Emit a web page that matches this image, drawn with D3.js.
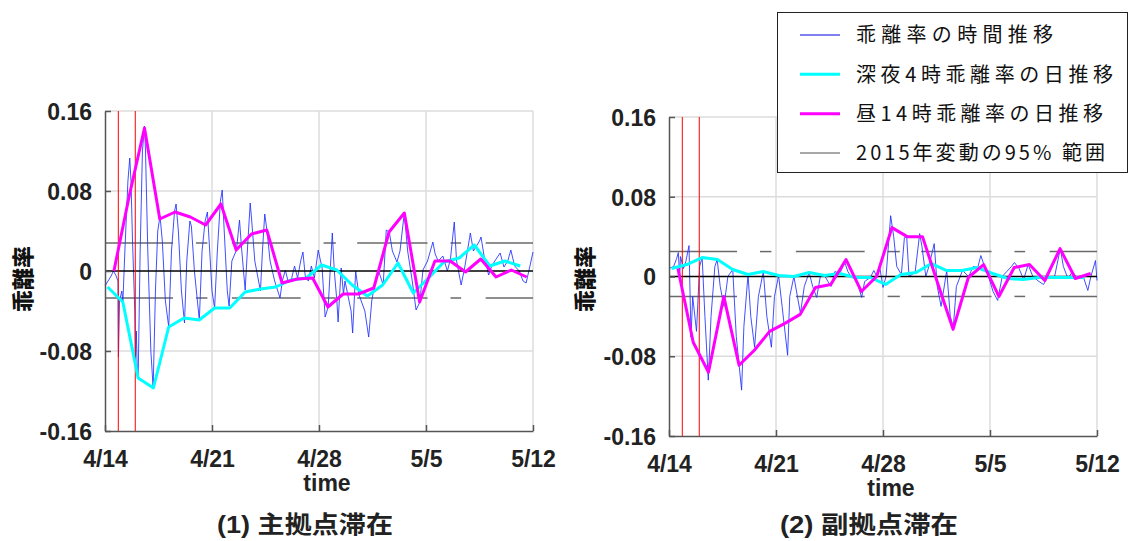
<!DOCTYPE html>
<meta charset="utf-8">
<style>
body { margin: 0; background: #fff; }
</style>
<svg id="chart" width="1130" height="541"></svg>
<script src="https://d3js.org/d3.v7.min.js"></script>
<script>

// day offsets count from 4/14 0:00
var tickDays = [0, 7, 14, 21, 28];
var tickLabels = ["4/14", "4/21", "4/28", "5/5", "5/12"];
var yTicks = [-0.16, -0.08, 0, 0.08, 0.16];
var quakeDays = [0.87, 1.98];

// 2015 95% range, [lower, upper] per panel, drawn on these day spans
var rangeSpans = [[0, 4.45], [5.95, 6.7], [8.3, 12.8], [14.3, 15.1], [16.5, 21.1], [22.6, 23.3], [24.9, 28]];
var rangeMain = [-0.027, 0.028];
var rangeSub = [-0.020, 0.025];

// 4時 values (cyan), one per day 4/14..5/11
var nightMain = [-0.016, -0.031, -0.107, -0.117, -0.056, -0.047, -0.049, -0.037, -0.037, -0.021, -0.018, -0.016, -0.009, -0.007,
	0.006, 0.001, -0.014, -0.025, -0.014, 0.008, -0.022, -0.007, 0.009, 0.013, 0.026, 0.005, 0.010, 0.005];
var nightSub = [0.008, 0.012, 0.019, 0.017, 0.007, 0.002, 0.005, 0.001, 0.000, 0.004, 0.001, 0.003, -0.001, -0.001,
	-0.008, 0.002, 0.004, 0.013, 0.006, 0.006, 0.009, 0.003, -0.002, -0.003, -0.001, -0.001, -0.001, -0.001];

// 14時 values (magenta)
var dayMain = [0.000, 0.075, 0.143, 0.052, 0.059, 0.054, 0.046, 0.067, 0.021, 0.037, 0.041, -0.012, -0.008, -0.007,
	-0.036, -0.023, -0.023, -0.017, 0.039, 0.058, -0.031, 0.010, 0.010, -0.001, 0.012, -0.006, 0.001, -0.006];
var daySub = [0.008, -0.066, -0.096, -0.020, -0.089, -0.074, -0.055, -0.047, -0.038, -0.011, -0.008, 0.017, -0.015, 0.000,
	0.049, 0.040, 0.040, -0.007, -0.053, -0.001, 0.012, -0.020, 0.009, 0.012, -0.004, 0.028, -0.002, 0.003];

// hourly trace (blue), [day, value]
var hourlyMain = [
	[0,-0.015],[0.2,-0.010],[0.4,-0.005],[0.55,0.000],[0.7,-0.004],[0.85,-0.010],[0.88,-0.086],[0.95,-0.030],
	[1.1,-0.020],[1.17,-0.031],[1.3,0.020],[1.5,0.090],[1.62,0.113],[1.7,0.090],[1.8,0.030],[1.95,-0.040],[1.99,-0.090],[2.05,-0.060],[2.12,-0.105],[2.17,-0.107],
	[2.3,0.020],[2.45,0.120],[2.58,0.145],[2.65,0.120],[2.8,0.020],[3.0,-0.080],[3.15,-0.117],
	[3.3,-0.020],[3.45,0.040],[3.6,0.055],[3.75,0.030],[3.95,-0.030],[4.17,-0.056],
	[4.35,0.020],[4.55,0.060],[4.65,0.067],[4.8,0.040],[5.0,-0.020],[5.2,-0.052],
	[5.35,0.010],[5.55,0.050],[5.65,0.045],[5.85,0.000],[6.17,-0.049],
	[6.35,0.020],[6.55,0.050],[6.7,0.059],[6.85,0.020],[7.0,-0.020],[7.17,-0.037],
	[7.35,0.020],[7.55,0.070],[7.67,0.081],[7.8,0.040],[8.0,-0.020],[8.12,-0.035],
	[8.3,0.010],[8.6,0.021],[8.8,0.051],[8.95,0.020],[9.17,-0.019],
	[9.35,0.030],[9.5,0.068],[9.6,0.050],[9.8,0.010],[10.17,-0.020],
	[10.3,0.020],[10.45,0.057],[10.6,0.040],[10.8,0.010],[11.1,-0.010],[11.45,-0.027],
	[11.6,-0.010],[11.8,0.001],[12.0,-0.012],[12.2,-0.008],
	[12.4,0.005],[12.6,-0.007],[12.8,0.010],[12.95,0.019],[13.1,-0.005],[13.3,-0.010],
	[13.5,0.005],[13.7,-0.007],[13.95,0.021],[14.1,0.010],[14.2,0.004],
	[14.4,-0.046],[14.6,-0.036],[14.87,0.038],[15.0,0.000],
	[15.17,-0.030],[15.25,-0.051],[15.45,0.003],[15.6,-0.023],[15.7,-0.010],
	[16.1,-0.040],[16.2,-0.062],[16.4,0.000],[16.6,-0.023],
	[17.0,-0.040],[17.25,-0.066],[17.45,-0.030],[17.6,-0.017],
	[17.9,0.000],[18.2,-0.014],[18.4,0.041],[18.6,0.039],[18.8,0.020],
	[19.1,0.009],[19.3,0.020],[19.58,0.058],[19.8,0.020],
	[20.1,-0.010],[20.35,-0.039],[20.6,-0.031],[20.8,0.001],
	[21.1,0.010],[21.45,0.029],[21.6,0.017],[21.8,0.010],
	[22.1,0.015],[22.4,0.000],[22.6,0.012],[22.85,0.049],[23.0,0.010],
	[23.3,-0.014],[23.55,0.005],[23.9,0.038],[24.1,0.020],
	[24.3,0.025],[24.5,0.030],[24.6,0.034],[24.8,0.015],
	[25.1,-0.004],[25.3,0.005],[25.5,0.010],[25.85,0.018],
	[26.1,0.004],[26.35,0.010],[26.55,0.021],[26.8,0.005],
	[27.1,0.000],[27.35,-0.010],[27.55,-0.012],[27.8,0.005],[28,0.019]
];
var hourlySub = [
	[0,0.008],[0.3,0.010],[0.5,0.018],[0.61,0.024],[0.7,0.000],[0.75,0.020],[0.95,0.008],
	[1.1,0.015],[1.31,0.031],[1.44,-0.061],[1.55,-0.020],[1.8,-0.055],[2.0,0.010],[2.17,0.019],
	[2.35,-0.040],[2.57,-0.104],[2.75,-0.040],[3.0,0.010],[3.15,0.017],
	[3.35,-0.010],[3.6,-0.030],[3.85,0.000],[4.17,0.007],
	[4.4,-0.060],[4.75,-0.114],[4.9,-0.050],[5.17,0.002],
	[5.35,-0.040],[5.6,-0.071],[5.85,-0.020],[6.17,0.005],
	[6.4,-0.040],[6.7,-0.071],[6.9,-0.020],[7.17,0.001],
	[7.4,-0.030],[7.76,-0.079],[7.9,-0.020],[8.17,0.000],
	[8.4,-0.020],[8.6,-0.037],[8.85,-0.010],[9.17,0.004],
	[9.4,-0.010],[9.66,-0.021],[9.9,0.000],[10.17,0.001],
	[10.4,-0.005],[10.6,-0.010],[10.85,0.005],[11.17,0.003],
	[11.5,0.014],[11.7,0.005],[11.9,0.000],[12.17,-0.001],
	[12.4,-0.010],[12.6,-0.021],[12.8,-0.005],[13.17,-0.001],
	[13.4,0.006],[13.6,0.000],[13.8,0.008],[14.0,-0.011],
	[14.2,0.000],[14.5,0.061],[14.7,0.040],[14.9,0.010],[15.2,0.002],
	[15.4,0.039],[15.55,0.040],[15.7,0.000],[16.1,0.004],
	[16.4,0.043],[16.55,0.030],[16.8,0.000],[17.0,0.010],
	[17.35,0.033],[17.55,-0.010],[17.8,-0.030],[18.17,0.006],
	[18.4,-0.040],[18.6,-0.051],[18.8,-0.010],[19.2,0.006],
	[19.6,0.000],[19.9,0.010],[20.2,0.009],[20.4,0.021],[20.6,0.012],
	[20.9,0.000],[21.2,-0.015],[21.5,-0.024],[21.8,0.000],
	[22.1,0.005],[22.4,0.010],[22.6,0.014],[22.9,0.008],
	[23.2,-0.003],[23.5,0.012],[23.8,0.000],[24.2,-0.005],
	[24.5,-0.008],[24.8,0.000],[25.2,-0.002],[25.6,0.028],[25.8,0.010],
	[26.1,-0.002],[26.4,0.005],[26.7,-0.002],[27.1,0.000],[27.4,-0.014],[27.6,0.000],[27.9,0.016],[28,-0.004]
];

var legendItems = [
	{ label: "乖離率の時間推移", color: "#0000e0", width: 1, len: 197 },
	{ label: "深夜4時乖離率の日推移", color: "#00ffff", width: 3, len: 257 },
	{ label: "昼14時乖離率の日推移", color: "#ff00ff", width: 3, len: 247 },
	{ label: "2015年変動の95% 範囲", color: "#a8a8a8", width: 2, len: 249 }
];

var svg = d3.select("svg#chart");
var latin = "'Liberation Sans', Arial, sans-serif";
var cjk = "'Liberation Sans', 'Noto Sans CJK JP', sans-serif";

drawPanel({ x0: 105, x1: 533, y0: 431, y1: 111, hourly: hourlyMain, night: nightMain, day: dayMain,
	range: rangeMain, caption: "(1) 主拠点滞在", capX: 305, capLen: 176, labelX: 23 });
drawPanel({ x0: 669, x1: 1097, y0: 436, y1: 117, hourly: hourlySub, night: nightSub, day: daySub,
	range: rangeSub, caption: "(2) 副拠点滞在", capX: 869, capLen: 178, labelX: 585 });
drawLegend();

function drawPanel(p) {
	var x = d3.scaleLinear().domain([0, 28]).range([p.x0, p.x1]);
	var y = d3.scaleLinear().domain([-0.16, 0.16]).range([p.y0, p.y1]);
	var g = svg.append("g");

	// grid
	g.selectAll("line.vg").data(tickDays.slice(1)).enter().append("line")
		.attr("x1", function(d) { return x(d); }).attr("x2", function(d) { return x(d); })
		.attr("y1", y(0.16)).attr("y2", y(-0.16))
		.attr("stroke", "#dcdcdc").attr("stroke-width", 1.5);
	g.selectAll("line.hg").data([0.08, 0.16, -0.08]).enter().append("line")
		.attr("x1", x(0)).attr("x2", x(28))
		.attr("y1", function(d) { return y(d); }).attr("y2", function(d) { return y(d); })
		.attr("stroke", "#dcdcdc").attr("stroke-width", 1.5);

	// 95% range
	p.range.forEach(function(v) {
		g.selectAll(null).data(rangeSpans).enter().append("line")
			.attr("x1", function(d) { return x(d[0]); }).attr("x2", function(d) { return x(d[1]); })
			.attr("y1", y(v)).attr("y2", y(v))
			.attr("stroke", "#6a6a6a").attr("stroke-width", 1.5);
	});

	var line = d3.line()
		.x(function(d) { return x(d[0]); })
		.y(function(d) { return y(d[1]); });

	g.append("path")
		.attr("d", line(p.hourly))
		.attr("fill", "none")
		.attr("stroke", "#2030ff")
		.attr("stroke-width", 1)
		.attr("stroke-opacity", 0.85);

	g.append("line")
		.attr("x1", x(0)).attr("x2", x(28)).attr("y1", y(0)).attr("y2", y(0))
		.attr("stroke", "#000").attr("stroke-width", 1.5);

	g.selectAll("line.eq").data(quakeDays).enter().append("line")
		.attr("x1", function(d) { return x(d); }).attr("x2", function(d) { return x(d); })
		.attr("y1", y(0.16)).attr("y2", y(-0.16))
		.attr("stroke", "#ff0000").attr("stroke-width", 1);

	g.append("path")
		.attr("d", line(p.night.map(function(v, i) { return [i + 4 / 24, v]; })))
		.attr("fill", "none").attr("stroke", "#00ffff").attr("stroke-width", 3)
		.attr("stroke-linejoin", "round");
	g.append("path")
		.attr("d", line(p.day.map(function(v, i) { return [i + 14 / 24, v]; })))
		.attr("fill", "none").attr("stroke", "#ff00ff").attr("stroke-width", 3)
		.attr("stroke-linejoin", "round");

	// axes
	var xAxis = d3.axisBottom(x).tickValues(tickDays)
		.tickFormat(function(d, i) { return tickLabels[i]; })
		.tickSizeInner(-6).tickSizeOuter(0).tickPadding(19);
	var yAxis = d3.axisLeft(y).tickValues(yTicks)
		.tickFormat(function(d) { return d === 0 ? "0" : d3.format(".2f")(d).replace("−", "-"); })
		.tickSizeInner(-6).tickSizeOuter(0).tickPadding(13);

	var gx = svg.append("g").attr("transform", "translate(0," + p.y0 + ")").call(xAxis);
	var gy = svg.append("g").attr("transform", "translate(" + p.x0 + ",0)").call(yAxis);
	[gx, gy].forEach(function(a) {
		a.select(".domain").attr("stroke", "#555").attr("stroke-width", 1.5);
		a.selectAll(".tick line").attr("stroke", "#555").attr("stroke-width", 1.5);
		a.selectAll(".tick text").attr("fill", "#222")
			.style("font-family", latin).style("font-weight", "bold").style("font-size", "23px");
	});
	gx.selectAll(".tick text").attr("dy", "0.72em");
	gy.selectAll(".tick text").attr("dy", "0.36em");

	svg.append("text")
		.attr("x", (p.x0 + p.x1) / 2 + 8).attr("y", p.y0 + 60)
		.attr("text-anchor", "middle")
		.style("font-family", latin).style("font-weight", "bold").style("font-size", "23px")
		.attr("fill", "#222")
		.text("time");

	svg.append("text")
		.attr("transform", "translate(" + p.labelX + ",279) rotate(-90)")
		.attr("text-anchor", "middle").attr("dy", "0.35em")
		.style("font-family", "'Noto Sans CJK JP', sans-serif").style("font-weight", "900").style("font-size", "22px")
		.attr("fill", "#111")
		.text("乖離率");

	svg.append("text")
		.attr("x", p.capX).attr("y", 533)
		.attr("text-anchor", "middle")
		.attr("textLength", p.capLen).attr("lengthAdjust", "spacingAndGlyphs")
		.style("font-family", cjk).style("font-weight", "bold").style("font-size", "24px")
		.attr("fill", "#222")
		.text(p.caption);
}

function drawLegend() {
	var g = svg.append("g");
	g.append("rect")
		.attr("x", 777.5).attr("y", 12.5).attr("width", 350).attr("height", 160)
		.attr("fill", "#fff").attr("stroke", "#222").attr("stroke-width", 1);
	var row = d3.scaleLinear().domain([0, 3]).range([35, 153]);
	var items = g.selectAll("g.item").data(legendItems).enter().append("g")
		.attr("transform", function(d, i) { return "translate(0," + row(i) + ")"; });
	items.append("line")
		.attr("x1", 800).attr("x2", 840).attr("y1", 0).attr("y2", 0)
		.attr("stroke", function(d) { return d.color; })
		.attr("stroke-width", function(d) { return d.width; });
	items.append("text")
		.attr("x", 856).attr("dy", "0.36em")
		.attr("textLength", function(d) { return d.len; }).attr("lengthAdjust", "spacing")
		.style("font-family", "'Noto Sans CJK JP', sans-serif").style("font-size", "20px")
		.attr("fill", "#111")
		.text(function(d) { return d.label; });
}

</script>
